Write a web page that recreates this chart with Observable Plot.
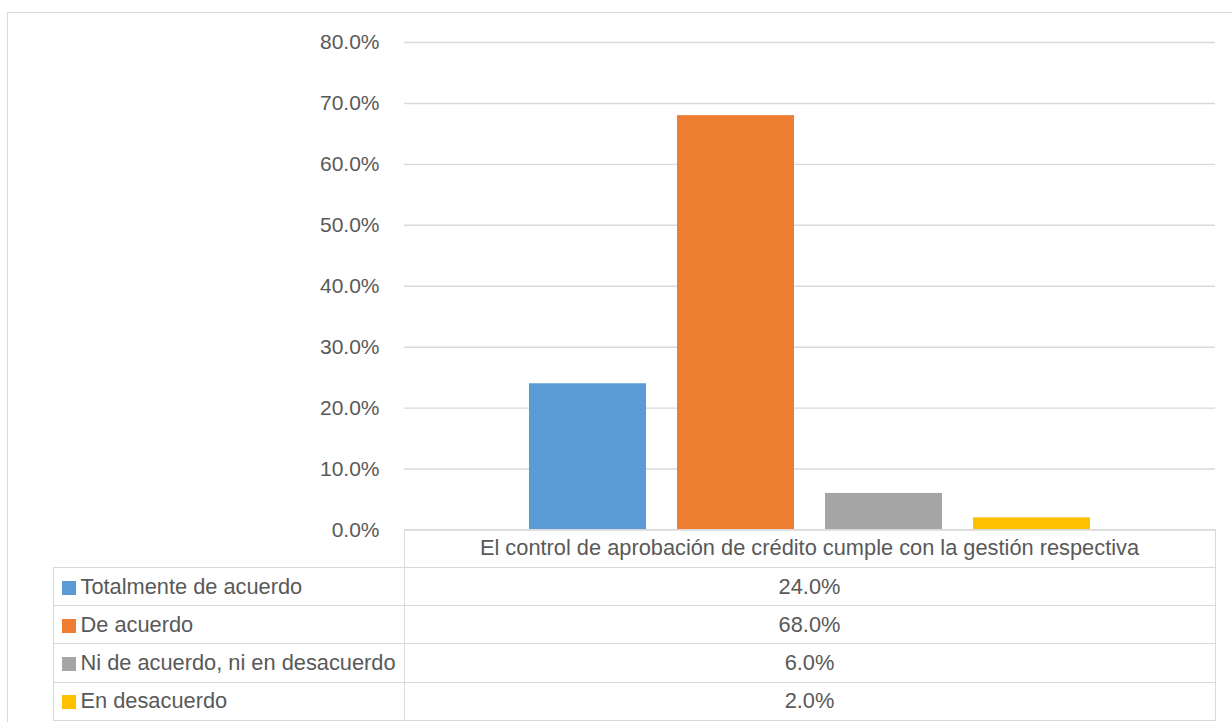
<!DOCTYPE html>
<html>
<head>
<meta charset="utf-8">
<script src="https://cdn.jsdelivr.net/npm/d3@7"></script>
<script src="https://cdn.jsdelivr.net/npm/@observablehq/plot@0.6"></script>
<style>
  html, body { margin: 0; padding: 0; background: #fff; overflow: hidden; }
  #wrap { position: relative; width: 1232px; height: 722px; font-family: "Liberation Sans", Arial, sans-serif; color: #595959; }
  #frame { position: absolute; left: 7px; top: 12px; width: 1300px; height: 800px; border: 1.5px solid #d9d9d9; box-sizing: border-box; }
  #chart { position: absolute; left: 0; top: 0; }
  table.dt { position: absolute; left: 52.5px; top: 528.8px; border-collapse: collapse; table-layout: fixed; font-size: 21.8px; color: #595959; }
  table.dt td { border: 1.5px solid #d9d9d9; height: 38.2px; padding: 0; box-sizing: border-box; white-space: nowrap; line-height: 1; }
  table.dt td.val { text-align: center; }
  table.dt td.empty { border-top: none; border-left: none; }
  .sw { display: inline-block; width: 14px; height: 14px; margin-left: 8px; margin-right: 5px; vertical-align: -1px; }
</style>
</head>
<body>
<div id="wrap">
  <div id="frame"></div>
  <div id="chart"></div>
</div>
<script>
const categories = ["Totalmente de acuerdo", "De acuerdo", "Ni de acuerdo, ni en desacuerdo", "En desacuerdo"];
const values = [24.0, 68.0, 6.0, 2.0];
const seriesColors = ["#5B9BD5", "#ED7D31", "#A5A5A5", "#FFC000"];
const yTicks = [0, 10, 20, 30, 40, 50, 60, 70, 80];
const columnLabel = "El control de aprobación de crédito cumple con la gestión respectiva";

const data = categories.map((c, i) => ({category: c, value: values[i]}));
const pct = d => d.toFixed(1) + "%";

const chart = Plot.plot({
  width: 1232,
  height: 722,
  marginLeft: 404,
  marginRight: 17,
  marginTop: 42,
  marginBottom: 192.5,
  style: {fontFamily: "'Liberation Sans', Arial, sans-serif", fontSize: "21px", color: "#595959", background: "transparent", overflow: "visible"},
  x: {domain: categories, paddingInner: 0.209, paddingOuter: 0.84, axis: null},
  y: {domain: [0, 80], axis: null},
  color: {domain: categories, range: seriesColors},
  marks: [
    Plot.gridY(yTicks, {stroke: "#d9d9d9", strokeOpacity: 1, strokeWidth: 1.4}),
    Plot.barY(data, {x: "category", y: "value", fill: "category"}),
    Plot.axisY(yTicks, {tickSize: 0, tickPadding: 25, tickFormat: pct, fontSize: 21, fill: "#595959", label: null})
  ]
});
document.getElementById("chart").appendChild(chart);

// data table below the plot area
const table = document.createElement("table");
table.className = "dt";
const colgroup = document.createElement("colgroup");
[351, 811].forEach(w => { const col = document.createElement("col"); col.style.width = w + "px"; colgroup.appendChild(col); });
table.appendChild(colgroup);
const head = document.createElement("tr");
const e = document.createElement("td"); e.className = "empty"; head.appendChild(e);
const h = document.createElement("td"); h.className = "val"; h.textContent = columnLabel; head.appendChild(h);
table.appendChild(head);
data.forEach((d, i) => {
  const tr = document.createElement("tr");
  const a = document.createElement("td");
  const sw = document.createElement("span"); sw.className = "sw"; sw.style.background = seriesColors[i];
  a.appendChild(sw); a.appendChild(document.createTextNode(d.category));
  const b = document.createElement("td"); b.className = "val"; b.textContent = pct(d.value);
  tr.appendChild(a); tr.appendChild(b);
  table.appendChild(tr);
});
document.getElementById("wrap").appendChild(table);
</script>
</body>
</html>
